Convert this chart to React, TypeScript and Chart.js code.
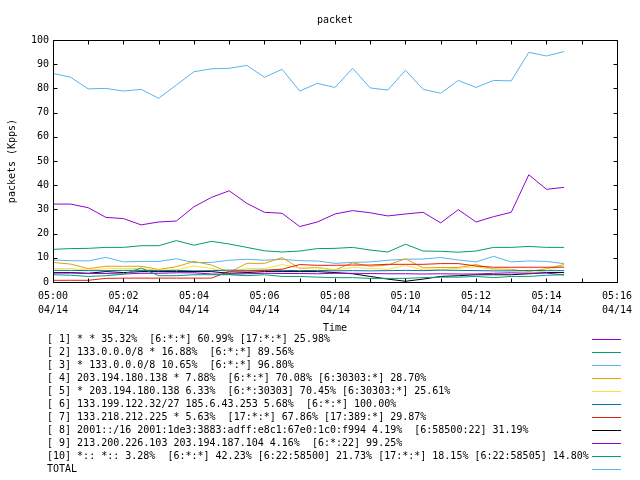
import React, { useEffect, useRef } from "react";
import { Chart, registerables } from "chart.js";

Chart.register(...registerables);

// minutes after 05:00 (samples every 30 s)
const minutes = [0, 0.5, 1, 1.5, 2, 2.5, 3, 3.5, 4, 4.5, 5, 5.5, 6, 6.5, 7, 7.5, 8, 8.5, 9, 9.5, 10, 10.5, 11, 11.5, 12, 12.5, 13, 13.5, 14, 14.5];

const s1 = [32.2, 32.2, 30.7, 26.7, 26.2, 23.6, 24.8, 25.2, 31.1, 35.0, 37.7, 32.5, 28.8, 28.4, 22.9, 24.8, 28.1, 29.5, 28.6, 27.3, 28.1, 28.8, 24.4, 29.9, 24.8, 27.0, 28.8, 44.3, 38.3, 39.1];
const s2 = [13.5, 13.8, 13.9, 14.3, 14.3, 15.0, 15.0, 17.1, 15.2, 16.8, 15.7, 14.3, 12.9, 12.4, 12.8, 13.8, 13.9, 14.3, 13.2, 12.4, 15.6, 12.8, 12.7, 12.3, 12.8, 14.3, 14.3, 14.7, 14.3, 14.3];
const s3 = [9.1, 8.8, 8.7, 10.2, 8.3, 8.5, 8.5, 9.6, 8.0, 8.1, 9.0, 9.4, 9.0, 9.4, 8.8, 8.7, 7.7, 8.1, 8.3, 9.0, 9.4, 9.5, 10.1, 9.1, 8.3, 10.6, 8.3, 8.7, 8.5, 7.6];
const s4 = [8.1, 7.4, 5.5, 6.5, 6.5, 6.5, 5.2, 6.3, 8.5, 7.0, 4.0, 7.7, 7.7, 10.1, 5.6, 6.0, 5.0, 7.9, 6.5, 7.0, 9.6, 5.8, 6.0, 6.0, 7.2, 5.4, 5.2, 4.3, 5.5, 7.2];
const s5 = [5.6, 5.6, 4.9, 5.5, 5.6, 5.5, 4.9, 5.0, 6.6, 5.6, 4.0, 5.6, 5.6, 7.2, 5.8, 5.8, 4.9, 6.0, 5.6, 5.2, 6.9, 4.9, 5.2, 5.6, 6.3, 5.2, 4.9, 3.9, 4.6, 6.9];
const s6 = [4.8, 4.8, 4.7, 4.7, 4.8, 4.8, 4.7, 4.8, 4.6, 4.7, 4.9, 4.8, 4.9, 4.8, 4.7, 4.8, 4.6, 4.7, 4.6, 4.7, 4.8, 4.7, 4.9, 4.8, 4.7, 4.6, 4.6, 4.8, 4.7, 4.7];
const s7 = [0.7, 0.7, 0.7, 1.5, 1.6, 1.6, 1.6, 1.6, 1.6, 1.6, 4.4, 4.5, 4.8, 5.3, 7.2, 6.9, 6.9, 7.0, 7.0, 7.3, 7.3, 7.3, 7.6, 7.6, 6.6, 6.1, 6.1, 6.1, 6.1, 6.1];
const s8 = [3.9, 3.9, 3.6, 4.3, 3.9, 4.3, 4.3, 4.3, 4.3, 4.3, 3.6, 3.9, 4.3, 4.3, 4.3, 4.3, 3.9, 3.4, 2.3, 1.2, 0.3, 1.2, 2.3, 2.6, 3.0, 3.0, 3.0, 3.4, 3.9, 3.9];
const s9 = [3.7, 3.7, 3.5, 3.5, 3.3, 3.6, 3.6, 3.8, 3.8, 3.3, 3.2, 3.4, 3.6, 3.5, 3.5, 3.4, 3.6, 3.6, 3.5, 3.4, 3.4, 3.3, 3.4, 3.3, 3.3, 3.6, 3.8, 3.6, 3.7, 2.9];
const s10 = [3.0, 2.8, 2.3, 2.6, 3.2, 5.8, 2.6, 2.6, 3.0, 3.0, 3.0, 2.6, 3.0, 2.3, 2.3, 2.0, 1.8, 1.8, 1.5, 1.5, 1.5, 1.8, 2.0, 2.0, 2.3, 1.8, 2.3, 2.3, 2.8, 3.0];
const total = [86.2, 84.6, 79.8, 80.0, 78.9, 79.6, 75.9, 81.4, 86.9, 88.1, 88.3, 89.5, 84.6, 87.9, 78.9, 82.1, 80.4, 88.3, 80.2, 79.3, 87.5, 79.6, 78.0, 83.3, 80.4, 83.3, 83.1, 94.9, 93.4, 95.2];

const seriesValues = [s1, s2, s3, s4, s5, s6, s7, s8, s9, s10, total];

const seriesLabels = [
  "[ 1] * * 35.32%  [6:*:*] 60.99% [17:*:*] 25.98%",
  "[ 2] 133.0.0.0/8 * 16.88%  [6:*:*] 89.56%",
  "[ 3] * 133.0.0.0/8 10.65%  [6:*:*] 96.80%",
  "[ 4] 203.194.180.138 * 7.88%  [6:*:*] 70.08% [6:30303:*] 28.70%",
  "[ 5] * 203.194.180.138 6.33%  [6:*:30303] 70.45% [6:30303:*] 25.61%",
  "[ 6] 133.199.122.32/27 185.6.43.253 5.68%  [6:*:*] 100.00%",
  "[ 7] 133.218.212.225 * 5.63%  [17:*:*] 67.86% [17:389:*] 29.87%",
  "[ 8] 2001::/16 2001:1de3:3883:adff:e8c1:67e0:1c0:f994 4.19%  [6:58500:22] 31.19%",
  "[ 9] 213.200.226.103 203.194.187.104 4.16%  [6:*:22] 99.25%",
  "[10] *:: *:: 3.28%  [6:*:*] 42.23% [6:22:58500] 21.73% [17:*:*] 18.15% [6:22:58505] 14.80%",
  "TOTAL",
];

const seriesColors = ["#9400d3", "#009e73", "#56b4e9", "#e69f00", "#f0e442", "#0072b2", "#e51e10", "#000000", "#9400d3", "#009e73", "#56b4e9"];

const xTickTimes = ["05:00", "05:02", "05:04", "05:06", "05:08", "05:10", "05:12", "05:14", "05:16"];
const xTickDate = "04/14";

const chartTitle = "packet";
const xTitle = "Time";
const yTitle = "packets (Kpps)";

const FONT = '"DejaVu Sans Mono", "Liberation Mono", monospace';

const gnuplotFrame = {
  id: "gnuplotFrame",
  afterDraw(chart: any) {
    const { ctx, chartArea: a, scales } = chart;
    const x = scales.x;
    const y = scales.y;
    ctx.save();
    ctx.strokeStyle = "#000";
    ctx.lineWidth = 1;
    const L = Math.round(a.left) + 0.5;
    const R = Math.round(a.right) + 0.5;
    const T = Math.round(a.top) + 0.5;
    const B = Math.round(a.bottom) + 0.5;
    ctx.beginPath();
    ctx.rect(L, T, R - L, B - T);
    x.ticks.forEach((t: any) => {
      const px = Math.round(x.getPixelForValue(t.value)) + 0.5;
      ctx.moveTo(px, B);
      ctx.lineTo(px, B - 4);
      ctx.moveTo(px, T);
      ctx.lineTo(px, T + 4);
    });
    y.ticks.forEach((t: any) => {
      const py = Math.round(y.getPixelForValue(t.value)) + 0.5;
      ctx.moveTo(L, py);
      ctx.lineTo(L + 4, py);
      ctx.moveTo(R, py);
      ctx.lineTo(R - 4, py);
    });
    ctx.stroke();

    // title
    ctx.fillStyle = "#000";
    ctx.font = `10px ${FONT}`;
    ctx.textAlign = "center";
    ctx.textBaseline = "middle";
    ctx.fillText(chartTitle, (a.left + a.right) / 2, 20.5);

    // legend
    ctx.textAlign = "left";
    chart.data.datasets.forEach((ds: any, i: number) => {
      const rowY = 339.5 + 13 * i;
      ctx.fillStyle = "#000";
      ctx.fillText(ds.label, 47, rowY);
      ctx.strokeStyle = ds.borderColor;
      ctx.beginPath();
      ctx.moveTo(592, rowY);
      ctx.lineTo(621, rowY);
      ctx.stroke();
    });
    ctx.restore();
  },
};

export default function App() {
  const ref = useRef<HTMLCanvasElement | null>(null);

  useEffect(() => {
    if (!ref.current) return;
    const datasets = seriesValues.map((vals, i) => ({
      label: seriesLabels[i],
      data: vals.map((v, j) => ({ x: minutes[j], y: v })),
      borderColor: seriesColors[i],
      backgroundColor: seriesColors[i],
      borderWidth: 1,
      pointRadius: 0,
      tension: 0,
      fill: false,
      order: seriesValues.length - i,
    }));
    const chart = new Chart(ref.current, {
      type: "line",
      data: { datasets },
      plugins: [gnuplotFrame],
      options: {
        animation: false,
        responsive: false,
        maintainAspectRatio: false,
        layout: { padding: { left: 0, right: 19, top: 40, bottom: 146 } },
        plugins: {
          legend: { display: false },
          title: { display: false },
          tooltip: { enabled: false },
        },
        scales: {
          x: {
            type: "linear",
            min: 0,
            max: 16,
            grid: { display: false, drawTicks: false },
            border: { display: false },
            ticks: {
              stepSize: 1,
              autoSkip: false,
              maxRotation: 0,
              padding: 8,
              color: "#000",
              font: { family: FONT, size: 10, lineHeight: 1.35 },
              callback: (v: any) => {
                const n = Number(v);
                if (n % 2 !== 0) return "";
                return [xTickTimes[n / 2], xTickDate];
              },
            },
            title: {
              display: true,
              text: xTitle,
              color: "#000",
              font: { family: FONT, size: 10 },
              padding: { top: 0, bottom: 0 },
            },
            afterFit: (s: any) => {
              s.height = 52;
            },
          },
          y: {
            min: 0,
            max: 100,
            grid: { display: false, drawTicks: false },
            border: { display: false },
            ticks: {
              stepSize: 10,
              padding: 4,
              color: "#000",
              font: { family: FONT, size: 10 },
            },
            title: {
              display: true,
              text: yTitle,
              color: "#000",
              font: { family: FONT, size: 10 },
              padding: { top: 6.5, bottom: 0 },
            },
            afterFit: (s: any) => {
              s.width = 53;
            },
          },
        },
      },
    });
    return () => chart.destroy();
  }, []);

  return (
    <div style={{ position: "absolute", left: 0, top: 0, width: 640, height: 480, background: "#fff" }}>
      <canvas ref={ref} width={640} height={480} />
    </div>
  );
}
